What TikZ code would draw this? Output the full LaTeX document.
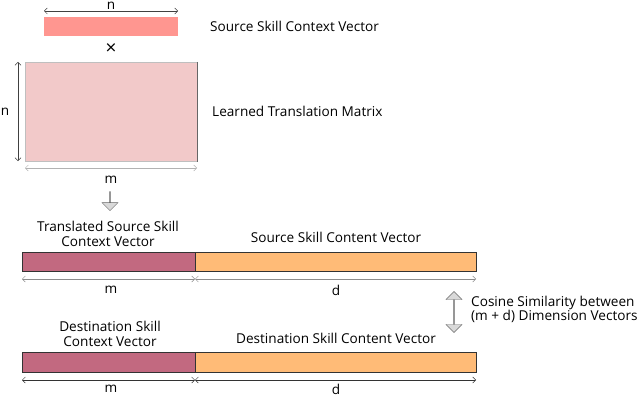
\documentclass[tikz,border=0pt]{standalone}
\usepackage{fontspec}
\setmainfont{Open Sans}
\usepackage{xcolor}
\usetikzlibrary{arrows.meta, calc, shapes.arrows}

\definecolor{srcred}{RGB}{255,150,144}
\definecolor{matpink}{RGB}{242,201,201}
\definecolor{ctxplum}{RGB}{194,105,128}
\definecolor{contorange}{RGB}{255,187,119}
\definecolor{arrowgrey}{RGB}{217,217,217}

\tikzset{
  vecbox/.style={draw=black!80, line width=0.6pt, inner sep=0pt, anchor=north west},
  dimline/.style={{Straight Barb[length=3pt,width=6pt]}-{Straight Barb[length=3pt,width=6pt]}, line width=0.5pt},
  blockarrow/.style={draw=black!60, fill=arrowgrey, line width=0.4pt, inner sep=0pt},
  lbl/.style={font=\fontsize{13.6}{15}\selectfont, align=center, inner sep=1pt},
}

\begin{document}
\begin{tikzpicture}[x=1pt, y=-1pt]
  \useasboundingbox (0,0) rectangle (640,396);

  % source context vector times the matrix
  \node[vecbox, draw=none, fill=srcred, minimum width=134pt, minimum height=19pt] (srcvec) at (44,17) {};
  \coordinate (srcl) at (44,11);
  \coordinate (srcr) at (178,11);
  \draw[dimline, black!75] (srcl) -- (srcr);
  \node[lbl, inner sep=0pt] (srcn) at (111,5.5) {n};
  \node[lbl, anchor=west] (srclbl) at (209,26) {Source Skill Context Vector};
  \node[lbl, font=\fontsize{19}{20}\selectfont] (times) at (111,49) {×};

  \node[vecbox, draw=black!25, fill=matpink, minimum width=172pt, minimum height=99pt] (transmat) at (25,62) {};
  \draw[black!60, line width=0.8pt] (transmat.north east) -- (transmat.south east);
  \coordinate (matt) at (18,62);
  \coordinate (matb) at (18,161);
  \draw[dimline, black!75] (matt) -- (matb);
  \node[lbl] (matn) at (5,112) {n};
  \coordinate (matl) at (25,168);
  \coordinate (matr) at (197,168);
  \draw[dimline, black!30] (matl) -- (matr);
  \node[lbl] (matm) at (111,180) {m};
  \node[lbl, anchor=west] (matlbl) at (211,111) {Learned Translation Matrix};

  \node[blockarrow, single arrow, shape border rotate=270, single arrow head extend=4pt, minimum width=16pt, minimum height=19pt] (down) at (110,201) {};

  % translated source vector
  \node[lbl] (transtxt) at (108,234) {Translated Source Skill\\Context Vector};
  \node[lbl] (srcconttxt) at (336,237) {Source Skill Content Vector};
  \node[vecbox, fill=ctxplum, minimum width=173pt, minimum height=19pt] (transctx) at (22,252) {};
  \node[vecbox, fill=contorange, minimum width=281pt, minimum height=19pt] (srccont) at (195,252) {};
  \coordinate (ta) at (22,279);
  \coordinate (tb) at (195,279);
  \coordinate (tc) at (476,279);
  \draw[dimline, black!45] (ta) -- (tb);
  \draw[dimline, black!45] (tb) -- (tc);
  \node[lbl] (tm) at (111,290) {m};
  \node[lbl] (td) at (336,290) {d};

  % cosine similarity
  \node[blockarrow, double arrow, shape border rotate=90, double arrow head extend=4pt, minimum width=16pt, minimum height=41pt] (cosarrow) at (454,312) {};
  \node[lbl, anchor=west, align=left, font=\fontsize{13.6}{14}\selectfont] (costxt) at (470,309) {Cosine Similarity between\\(m + d) Dimension Vectors};

  % destination vector
  \node[lbl] (dsttxt) at (110,334) {Destination Skill\\Context Vector};
  \node[lbl] (dstconttxt) at (336,338) {Destination Skill Content Vector};
  \node[vecbox, fill=ctxplum, minimum width=173pt, minimum height=20pt] (dstctx) at (22,352) {};
  \node[vecbox, fill=contorange, minimum width=281pt, minimum height=20pt] (dstcont) at (195,352) {};
  \coordinate (da) at (22,380);
  \coordinate (db) at (195,380);
  \coordinate (dc) at (476,380);
  \draw[dimline, black!80] (da) -- (db);
  \draw[dimline, black!80] (db) -- (dc);
  \node[lbl] (dm) at (111,389) {m};
  \node[lbl] (dd) at (336,389) {d};
\end{tikzpicture}
\end{document}
